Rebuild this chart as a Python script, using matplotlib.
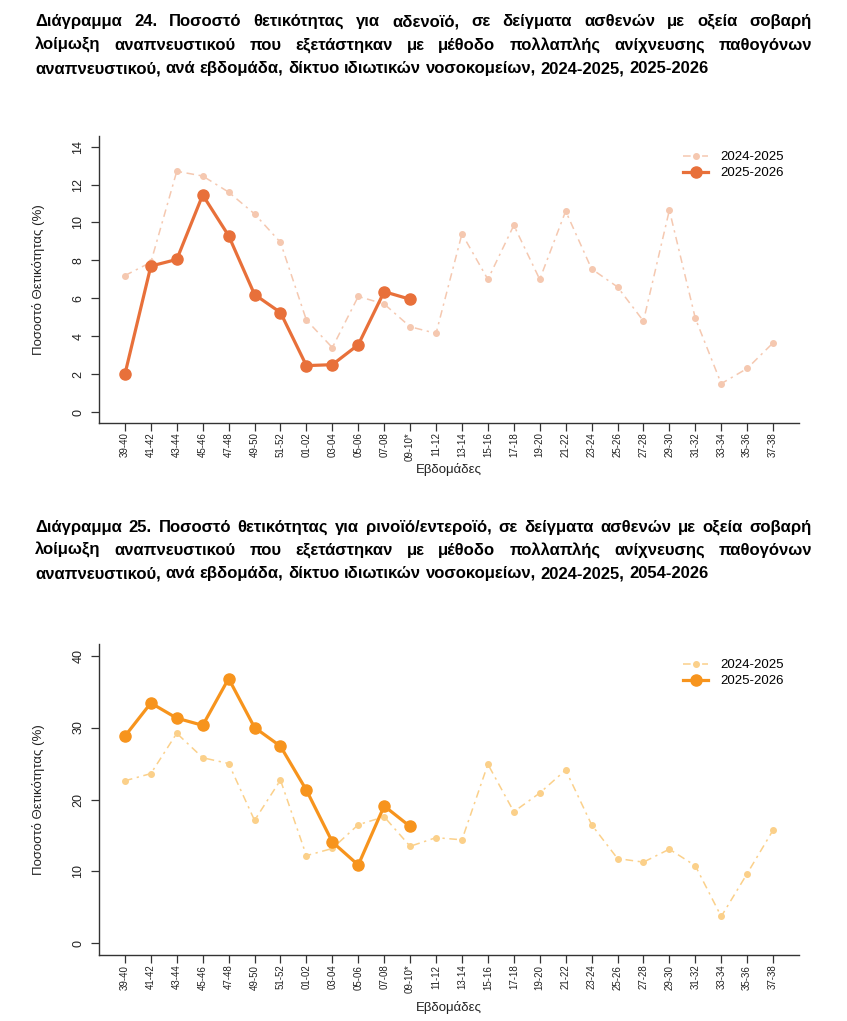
import numpy as np
import matplotlib
matplotlib.use("Agg")
import matplotlib.pyplot as plt

plt.rcParams['font.family'] = ['Liberation Sans', 'DejaVu Sans']

weeks = ['39-40', '41-42', '43-44', '45-46', '47-48', '49-50', '51-52', '01-02', '03-04',
         '05-06', '07-08', '09-10*', '11-12', '13-14', '15-16', '17-18', '19-20', '21-22',
         '23-24', '25-26', '27-28', '29-30', '31-32', '33-34', '35-36', '37-38']
series_names = ['2024-2025', '2025-2026']

# Διάγραμμα 24 - αδενοϊός
adeno_2425 = [7.2, 7.9, 12.7, 12.45, 11.6, 10.45, 8.95, 4.85, 3.4, 6.1, 5.7, 4.5, 4.15,
              9.4, 7.0, 9.85, 7.0, 10.6, 7.55, 6.6, 4.8, 10.65, 4.95, 1.5, 2.3, 3.65]
adeno_2526 = [2.0, 7.7, 8.05, 11.45, 9.3, 6.2, 5.25, 2.45, 2.5, 3.55, 6.35, 5.95]

# Διάγραμμα 25 - ρινοϊός/εντεροϊός
rhino_2425 = [22.6, 23.6, 29.2, 25.8, 25.0, 17.1, 22.7, 12.2, 13.2, 16.5, 17.6, 13.5, 14.7,
              14.4, 24.9, 18.3, 20.9, 24.1, 16.5, 11.8, 11.3, 13.1, 10.8, 3.75, 9.7, 15.75]
rhino_2526 = [28.8, 33.4, 31.3, 30.3, 36.8, 30.0, 27.4, 21.3, 14.1, 10.9, 19.1, 16.25]

title24 = ["Διάγραμμα 24.  Ποσοστό θετικότητας για αδενοϊό, σε δείγματα ασθενών με οξεία σοβαρή",
           "λοίμωξη αναπνευστικού που εξετάστηκαν με μέθοδο πολλαπλής ανίχνευσης παθογόνων",
           "αναπνευστικού, ανά εβδομάδα, δίκτυο ιδιωτικών νοσοκομείων, 2024-2025, 2025-2026"]
title25 = ["Διάγραμμα 25.  Ποσοστό θετικότητας για ρινοϊό/εντεροϊό, σε δείγματα ασθενών με οξεία σοβαρή",
           "λοίμωξη αναπνευστικού που εξετάστηκαν με μέθοδο πολλαπλής ανίχνευσης παθογόνων",
           "αναπνευστικού, ανά εβδομάδα, δίκτυο ιδιωτικών νοσοκομείων, 2024-2025, 2054-2026"]

W, H = 847, 1021
fig = plt.figure(figsize=(W / 100, H / 100), dpi=100)
fig.patch.set_facecolor('white')
renderer = fig.canvas.get_renderer()


def justified(lines, baselines, x0=35, x1=812, size=12):
    # κείμενο με πλήρη στοίχιση, όπως στο έγγραφο
    kw = dict(fontsize=size, fontweight='bold', va='baseline', ha='left', color='black')
    a = fig.text(0, 0, 'a a', **kw)
    b = fig.text(0, 0, 'aa', **kw)
    space = a.get_window_extent(renderer).width - b.get_window_extent(renderer).width
    a.remove()
    b.remove()
    for i, (line, yb) in enumerate(zip(lines, baselines)):
        words = line.split()
        texts = [fig.text(0, 1 - yb / H, w, **kw) for w in words]
        widths = [t.get_window_extent(renderer).width for t in texts]
        if i < len(lines) - 1:
            gap = (x1 - x0 - sum(widths)) / (len(words) - 1)
        else:
            gap = space
        x = x0
        for t, w in zip(texts, widths):
            t.set_x(x / W)
            x += w + gap


def panel(rect, old, new, dark, light, yticks, label_top):
    ax = fig.add_axes(rect)
    x_old = np.arange(len(old))
    x_new = np.arange(len(new))
    ax.plot(x_old, old, color=light, lw=1.1, dashes=(5, 3, 1.5, 3),
            marker='o', markersize=4, label=series_names[0])
    ax.plot(x_new, new, color=dark, lw=2.3, marker='o', markersize=8,
            label=series_names[1])
    ax.set_xlim(-1, len(weeks))
    pad = (yticks[-1] - yticks[0]) * 0.04
    ax.set_ylim(yticks[0] - pad, yticks[-1] + pad)
    ax.set_xticks(np.arange(len(weeks)))
    ax.set_xticklabels(weeks, rotation=90, fontsize=7)
    ax.set_yticks(yticks)
    ax.set_yticklabels([str(v) for v in yticks], rotation=90, va='center', fontsize=9)
    for s in ['top', 'right']:
        ax.spines[s].set_visible(False)
    for s in ['left', 'bottom']:
        ax.spines[s].set_color('#333333')
        ax.spines[s].set_linewidth(1.0)
    ax.tick_params(axis='both', direction='out', length=5.5, width=0.9, color='#333333',
                   labelcolor='#222222')
    ax.tick_params(axis='x', pad=1.5)
    ax.tick_params(axis='y', pad=5)
    ax.set_ylabel('Ποσοστό Θετικότητας (%)', fontsize=9.5, color='#222222')
    ax.yaxis.set_label_coords(-0.077, 0.5)
    ax.set_xlabel('Εβδομάδες', fontsize=9.5, color='#222222')
    ax.xaxis.set_label_coords(0.5, label_top)
    ax.legend(loc='upper left', bbox_to_anchor=(683 / W, rect[1] + rect[3] - 15 / H),
              bbox_transform=fig.transFigure, frameon=False, fontsize=9.5,
              handlelength=1.9, handletextpad=0.9, labelspacing=0.3, borderpad=0,
              borderaxespad=0)
    return ax


justified(title24, [26, 50, 73])
justified(title25, [532, 555, 578])

panel([99 / W, 1 - 422.7 / H, 700 / W, 286.7 / H], adeno_2425, adeno_2526,
      '#E8703A', '#F5C8B0', [0, 2, 4, 6, 8, 10, 12, 14], -0.14)
panel([99 / W, 1 - 955 / H, 700 / W, 311 / H], rhino_2425, rhino_2526,
      '#F7941D', '#FBD08A', [0, 10, 20, 30, 40], -0.148)

fig.savefig('out.png', dpi=100)
